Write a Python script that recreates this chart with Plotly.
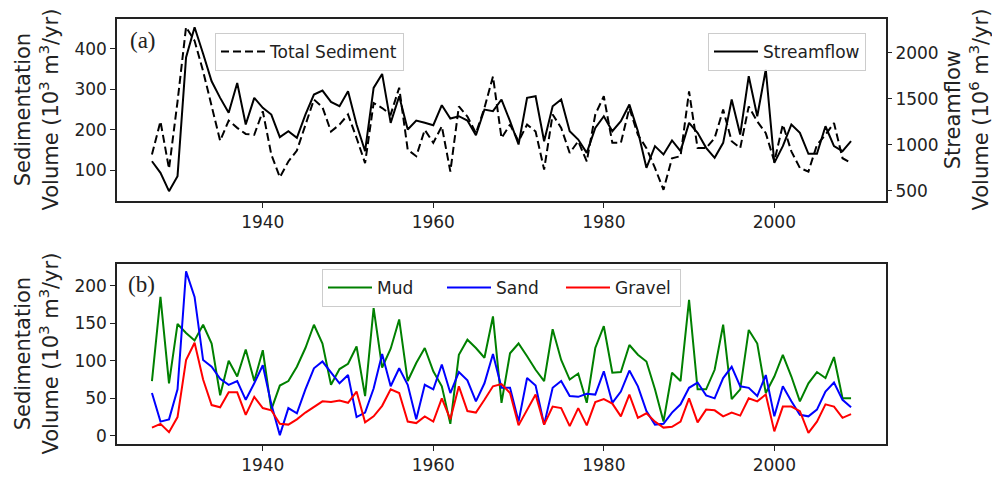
import plotly.graph_objects as go

years = list(range(1927, 2010))

total_sediment = [139, 221, 104, 270, 454, 420, 345, 262, 173, 223, 205, 190, 188, 246, 139, 83, 122, 149, 213, 275,
                  256, 196, 213, 238, 180, 118, 266, 254, 238, 304, 151, 135, 200, 168, 209, 97, 258, 233, 192, 254,
                  332, 180, 213, 172, 213, 196, 102, 238, 205, 143, 172, 122, 238, 283, 168, 168, 254, 188, 155, 106,
                  52, 130, 135, 295, 155, 155, 180, 250, 172, 155, 258, 221, 192, 122, 213, 147, 106, 97, 163, 188,
                  217, 130, 118]

streamflow = [820, 693, 494, 657, 1950, 2280, 1990, 1691, 1510, 1347, 1673, 1220, 1510, 1401, 1328, 1082, 1147, 1074,
              1328, 1546, 1590, 1466, 1419, 1583, 1220, 929, 1619, 1771, 1238, 1528, 1165, 1263, 1238, 1212, 1430, 1285,
              1310, 1263, 1103, 1383, 1365, 1492, 1256, 1002, 1510, 1528, 1038, 1419, 1492, 1147, 1056, 911, 1183, 1310,
              1147, 1256, 1437, 1147, 748, 984, 893, 1046, 930, 1238, 1129, 966, 857, 1020, 1492, 1111, 1746, 1310,
              1819, 802, 984, 1220, 1129, 900, 900, 1201, 984, 930, 1038]

mud = [73, 185, 70, 149, 137, 127, 148, 123, 54, 100, 79, 115, 73, 114, 35, 67, 73, 92, 117, 148,
       123, 68, 89, 96, 119, 53, 170, 91, 116, 155, 73, 97, 117, 86, 66, 16, 108, 128, 117, 104,
       159, 44, 110, 123, 106, 88, 73, 142, 101, 75, 83, 44, 117, 146, 84, 85, 121, 108, 99, 62,
       19, 84, 73, 181, 62, 62, 88, 148, 49, 62, 141, 123, 57, 79, 108, 79, 46, 70, 85, 77,
       105, 50, 50]

sand = [57, 19, 22, 62, 219, 185, 101, 92, 76, 68, 73, 48, 70, 94, 42, 1, 37, 30, 62, 90,
        99, 84, 70, 81, 25, 31, 63, 109, 66, 90, 68, 22, 68, 62, 95, 57, 85, 74, 46, 70,
        109, 64, 64, 19, 77, 67, 15, 64, 73, 53, 52, 56, 55, 86, 44, 59, 87, 66, 33, 15,
        16, 31, 42, 64, 71, 54, 50, 77, 92, 66, 64, 53, 81, 26, 66, 46, 28, 26, 35, 59,
        71, 48, 38]

gravel = [11, 16, 5, 25, 101, 124, 75, 41, 38, 58, 58, 28, 52, 37, 34, 16, 15, 22, 31, 39,
          46, 45, 47, 44, 59, 18, 26, 40, 62, 57, 19, 17, 26, 19, 50, 22, 66, 33, 31, 48,
          66, 69, 57, 14, 35, 55, 15, 39, 37, 13, 37, 14, 45, 49, 43, 26, 55, 24, 30, 19,
          11, 12, 19, 50, 18, 35, 34, 26, 31, 27, 50, 46, 55, 6, 39, 39, 33, 4, 19, 42,
          39, 24, 29]

x_ticks = [1940, 1960, 1980, 2000]
sed_ticks = [100, 200, 300, 400]
flow_ticks = [500, 1000, 1500, 2000]
frac_ticks = [0, 50, 100, 150, 200]

W, H = 992, 478
L, R = 117, 106
FONT = "DejaVu Sans"
INK = "#222222"

def pyfrac(py):
    return (H - py) / H

def pxfrac(px):
    return (px - L) / (W - L - R)

fig = go.Figure()
fig.add_trace(go.Scatter(x=years, y=total_sediment, mode="lines", name="Total Sediment",
                         line=dict(color="black", width=2, dash="8px,4px"),
                         xaxis="x", yaxis="y", legend="legend"))
fig.add_trace(go.Scatter(x=years, y=streamflow, mode="lines", name="Streamflow",
                         line=dict(color="black", width=2),
                         xaxis="x", yaxis="y2", legend="legend2"))
fig.add_trace(go.Scatter(x=years, y=mud, mode="lines", name="Mud",
                         line=dict(color="#008000", width=2), xaxis="x2", yaxis="y3", legend="legend3"))
fig.add_trace(go.Scatter(x=years, y=sand, mode="lines", name="Sand",
                         line=dict(color="#0000ff", width=2), xaxis="x2", yaxis="y3", legend="legend3"))
fig.add_trace(go.Scatter(x=years, y=gravel, mode="lines", name="Gravel",
                         line=dict(color="#ff0000", width=2), xaxis="x2", yaxis="y3", legend="legend3"))

tickfont = dict(family=FONT, size=17, color=INK)
axis_common = dict(showgrid=False, zeroline=False, showline=True, linecolor=INK, linewidth=1.5,
                   ticks="outside", ticklen=5, tickwidth=1.3, tickcolor=INK, tickfont=tickfont)

top_dom = [pyfrac(202), pyfrac(19)]
bot_dom = [pyfrac(446), pyfrac(265)]
xr = [1922.9, 2013.1]

legend_common = dict(bgcolor="rgba(255,255,255,0.85)", bordercolor="#cccccc", borderwidth=1,
                     font=dict(family=FONT, size=17, color=INK), yanchor="top", itemwidth=44)

fig.update_layout(
    width=W, height=H, margin=dict(l=L, r=R, t=0, b=0),
    paper_bgcolor="white", plot_bgcolor="white",
    xaxis=dict(domain=[0, 1], anchor="y", range=xr, tickvals=x_ticks, mirror=True, **axis_common),
    yaxis=dict(domain=top_dom, anchor="x", range=[24, 474], tickvals=sed_ticks, mirror=True, **axis_common),
    yaxis2=dict(overlaying="y", side="right", anchor="x", range=[385, 2370], tickvals=flow_ticks,
                **{k: v for k, v in axis_common.items() if k != "showline"}, showline=False),
    xaxis2=dict(domain=[0, 1], anchor="y3", range=xr, tickvals=x_ticks, mirror=True, **axis_common),
    yaxis3=dict(domain=bot_dom, anchor="x2", range=[-11, 229], tickvals=frac_ticks, mirror=True, **axis_common),
    legend=dict(x=pxfrac(215), y=pyfrac(33), xanchor="left", **legend_common),
    legend2=dict(x=pxfrac(866), y=pyfrac(33), xanchor="right", **legend_common),
    legend3=dict(x=pxfrac(322), y=pyfrac(270), xanchor="left", orientation="h",
                 entrywidth=60, entrywidthmode="pixels", **legend_common),
    showlegend=True,
)

title_font = dict(family=FONT, size=21, color=INK)
annos = [
    dict(text="Sedimentation<br>Volume (10<sup>3</sup> m<sup>3</sup>/yr)", x=pxfrac(37), y=pyfrac(110)),
    dict(text="Sedimentation<br>Volume (10<sup>3</sup> m<sup>3</sup>/yr)", x=pxfrac(37), y=pyfrac(355)),
    dict(text="Streamflow<br>Volume (10<sup>6</sup> m<sup>3</sup>/yr)", x=pxfrac(967), y=pyfrac(110)),
]
for a in annos:
    fig.add_annotation(xref="paper", yref="paper", xanchor="center", yanchor="middle",
                       textangle=-90, showarrow=False, font=title_font, **a)

for txt, px, py in [("(a)", 143, 41), ("(b)", 141, 286)]:
    fig.add_annotation(text=txt, xref="paper", yref="paper", x=pxfrac(px), y=pyfrac(py),
                       xanchor="center", yanchor="middle", showarrow=False,
                       font=dict(family="Liberation Serif", size=23, color=INK))

fig.write_html("out.html")
